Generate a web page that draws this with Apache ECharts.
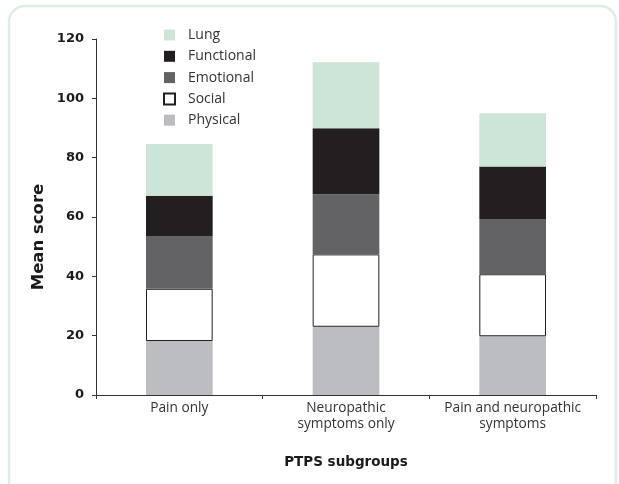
<!DOCTYPE html>
<html>
<head>
<meta charset="utf-8">
<script src="https://cdn.jsdelivr.net/npm/echarts@6/dist/echarts.min.js"></script>
<style>html,body{margin:0;padding:0;background:#fff}#c{width:619px;height:484px}</style>
</head>
<body>
<div id="c"></div>
<script>
var categories = ['Pain only', 'Neuropathic\nsymptoms only', 'Pain and neuropathic\nsymptoms'];
var physical = [18.2, 23.0, 19.8];
var social = [17.6, 24.4, 20.9];
var emotional = [17.6, 20.3, 18.6];
var functional = [13.8, 22.2, 17.7];
var lung = [17.4, 22.3, 18.0];
var yTicks = [0, 20, 40, 60, 80, 100, 120];

var chart = echarts.init(document.getElementById('c'), null, {renderer: 'canvas'});
var reg = 'Open Sans';
var bold = 'DejaVu Sans';
function s(name, data, color, border) {
  return {
    name: name, type: 'bar', stack: 'a', data: data, barWidth: '40%',
    itemStyle: {color: color, borderColor: border || color, borderWidth: border ? 1 : 0},
    emphasis: {disabled: true}
  };
}
chart.setOption({
  animation: false,
  graphic: [
    {type: 'rect', shape: {x: 9, y: 6, width: 607, height: 520, r: 16}, style: {fill: 'none', stroke: '#dcefe4', lineWidth: 2.5}, z: -1},
    {type: 'text', x: 39, y: 237, rotation: Math.PI / 2, style: {text: 'Mean score', font: 'bold 16.5px "DejaVu Sans"', fill: '#1a1a1a', textAlign: 'center', textVerticalAlign: 'middle'}}
  ],
  legend: {
    orient: 'vertical', left: 158, top: 23, itemWidth: 11, itemHeight: 11, itemGap: 7.3,
    data: ['Lung', 'Functional', 'Emotional', 'Social', 'Physical'],
    textStyle: {fontFamily: reg, fontSize: 14, color: '#333', lineHeight: 13, padding: [0, 0, 0, 8]},
    icon: 'rect', selectedMode: false
  },
  grid: {left: 96, right: 23, top: 39, bottom: 89},
  xAxis: {
    type: 'category', data: categories,
    name: 'PTPS subgroups', nameLocation: 'middle', nameGap: 60,
    nameTextStyle: {fontFamily: bold, fontWeight: 'bold', fontSize: 13.5, color: '#1a1a1a'},
    axisLine: {lineStyle: {color: '#333', width: 1}},
    axisTick: {show: true, length: 4, lineStyle: {color: '#333'}},
    axisLabel: {interval: 0, fontFamily: reg, fontSize: 13.7, color: '#333', lineHeight: 16, margin: 5}
  },
  yAxis: {
    type: 'value', min: yTicks[0], max: yTicks[yTicks.length - 1], interval: 20,
    splitLine: {show: false},
    axisLine: {show: true, lineStyle: {color: '#333', width: 1}},
    axisTick: {show: true, length: 4, lineStyle: {color: '#333'}},
    axisLabel: {fontFamily: bold, fontWeight: 'bold', fontSize: 13, color: '#1a1a1a', margin: 12}
  },
  series: [
    s('Physical', physical, '#bcbdc1'),
    s('Social', social, '#ffffff', '#231f20'),
    s('Emotional', emotional, '#636365'),
    s('Functional', functional, '#231f20'),
    s('Lung', lung, '#cde5d6')
  ]
});
</script>
</body>
</html>
